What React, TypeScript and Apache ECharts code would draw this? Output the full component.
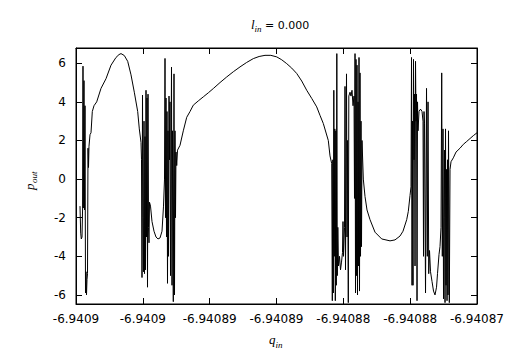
import React, { useEffect, useRef } from "react";
import * as echarts from "echarts";

// x positions in tick-index units (0 = first tick "-6.9409", 6 = last tick "-6.94087")
const qIn = [
  0.0599, 0.0703, 0.0793, 0.0898, 0.0988, 0.1047, 0.1092, 0.1197, 0.1272, 0.1347,
  0.1422, 0.1496, 0.1571, 0.1646, 0.1721, 0.1796, 0.187, 0.1945, 0.2095, 0.2245,
  0.2439, 0.2693, 0.3097, 0.3741, 0.4489, 0.5237, 0.5985, 0.6434, 0.6734, 0.7227,
  0.7736, 0.823, 0.8724, 0.9232, 0.9472, 0.9726, 0.9801, 0.9876, 0.9951, 1.0025,
  1.01, 1.0175, 1.025, 1.0325, 1.04, 1.0474, 1.0549, 1.0624, 1.0699, 1.0774,
  1.0848, 1.0923, 1.0998, 1.1148, 1.1372, 1.1672, 1.1971, 1.227, 1.2569, 1.2869,
  1.3093, 1.3243, 1.3317, 1.3392, 1.3467, 1.3542, 1.3617, 1.3691, 1.3766, 1.3841,
  1.3916, 1.3991, 1.4066, 1.414, 1.429, 1.4365, 1.444, 1.4559, 1.4664, 1.4739,
  1.4814, 1.4888, 1.4963, 1.5068, 1.5188, 1.5562, 1.6056, 1.6565, 1.7058, 1.7552,
  1.83, 1.9048, 1.98, 2.0545, 2.155, 2.255, 2.354, 2.454, 2.553, 2.653, 2.74, 2.8281,
  2.915, 3.0031, 3.078, 3.1528, 3.2276, 3.3024, 3.3772, 3.452, 3.5268,
  3.6017, 3.651, 3.7004, 3.7752, 3.8007, 3.8261, 3.8351, 3.8426, 3.8501, 3.8576, 3.865,
  3.8725, 3.88, 3.8875, 3.895, 3.9025, 3.9099, 3.9174, 3.9279, 3.9429, 3.9578,
  3.9728, 3.9877, 3.9952, 4.0027, 4.0177, 4.0251, 4.0326, 4.0476, 4.0551, 4.0626,
  4.0745, 4.082, 4.1, 4.1149, 4.1299, 4.1449, 4.1598, 4.1673, 4.1748, 4.1823,
  4.1897, 4.1972, 4.2047, 4.2122, 4.2197, 4.2271, 4.2346, 4.2421, 4.2496, 4.2571,
  4.2646, 4.272, 4.2795, 4.299, 4.3244, 4.3543, 4.3992, 4.474, 4.5743, 4.6985,
  4.7733, 4.8481, 4.893, 4.9484, 4.9723, 4.9978, 5.0127, 5.0202, 5.0277, 5.0352,
  5.0427, 5.0501, 5.0576, 5.0651, 5.0726, 5.0801, 5.0875, 5.095, 5.1025, 5.11,
  5.1175, 5.1324, 5.1474, 5.1624, 5.1773, 5.1923, 5.1998, 5.2072, 5.2147, 5.2297,
  5.2447, 5.2566, 5.2671, 5.2776, 5.2895, 5.3045, 5.3269, 5.3494, 5.3718, 5.3943,
  5.4092, 5.4317, 5.4466, 5.4616, 5.4721, 5.4811, 5.4915, 5.499, 5.5065, 5.514,
  5.5215, 5.529, 5.5364, 5.5439, 5.5514, 5.5589, 5.5664, 5.5738, 5.5858, 5.5963,
  5.6113, 5.6457, 5.6861, 5.7459, 5.7953, 5.8462, 5.8956, 5.9449, 6.0,
];

const pOut = [
  -1.4, -2.8, -3.1, -3.0, -1.5, 5.85, -1.5, 5.1, -1.6, 3.8,
  -5.9, -4.8, -6.0, -5.2, -4.9, 1.6, 0.6, 1.7, 2.3, 2.4,
  3.5, 3.8, 4.0, 4.7, 5.2, 5.9, 6.3, 6.45, 6.5, 6.4,
  6.1, 5.4, 4.5, 3.5, 2.6, 1.9, 1.0, -5.1, 4.35, -2.0,
  -4.8, 3.0, -4.9, 2.2, -4.7, 4.6, -3.0, 4.2, -5.6, 4.4,
  -2.5, -3.3, -1.2, -1.4, -2.2, -2.7, -3.0, -3.1, -3.05, -2.7,
  -1.4, 0, 6.25, -2, 4.2, -3, 3.5, -5.4, 2.5, -4,
  4.3, 1, 4.0, -5.0, 5.8, -5.5, 2.5, -6.35, 5.45, -6.0,
  2.5, -2, 1.4, 0.7, 1.5, 1.75, 2.5, 3.2, 3.5, 3.83,
  4.05, 4.26, 4.47, 4.69, 5.0, 5.29, 5.56, 5.81, 6.04, 6.24, 6.35, 6.41,
  6.41, 6.33, 6.18, 5.98, 5.75, 5.47, 5.08, 4.6, 4.18,
  3.74, 3.3, 2.88, 2.0, 1.2, 0.8, -6.3, 1.0, -5.9, 4.6, -4.0,
  2.6, -6.3, 2.5, -5.5, 6.5, -5.0, -2.5, -4.5, -4.0, -4.7,
  -4.3, -3.8, -2.2, -4.0, -2.5, 4.8, -4.7, 5.45, -3.0, 2.0,
  -6.4, 4.3, 4.5, 4.3, 4.6, 3.8, 4.3, -1, 6.5, -5.9,
  6.2, -5.0, 5.9, -6.0, 4.0, -4.5, 6.3, -5.8, 5.5, -4.0,
  3.0, -3.5, 2.0, 0, -0.9, -1.6, -2.1, -2.75, -3.1, -3.2,
  -3.15, -2.95, -2.7, -2.1, -1.67, -0.85, -0.4, 6.3, -5.5, 3.0,
  -5.5, 6.2, 1.0, 4.4, -4.5, 6.1, 3.0, 4.4, -6.3, 4.0,
  2.5, 3.5, 3.6, 3.6, 3.5, 3.0, -4.0, 3.5, 2.9, -5.9,
  4.7, -4.0, 4.0, -4.9, -3.7, -4.8, -5.3, -5.8, -6.0, -5.6,
  -4.9, -3.9, -3.5, -2.5, 5.5, -4.0, 2.6, -6.2, -2, 1.5,
  -6.4, 2.6, -5.5, 0.5, -6.3, 1.0, -6.0, 2.5, -6.4, 0.5,
  0.9, 1.1, 1.4, 1.6, 1.8, 1.95, 2.1, 2.25, 2.4,
];

const xTickLabels = [
  "-6.9409", "-6.9409", "-6.94089", "-6.94089", "-6.94088", "-6.94088", "-6.94087",
];
const yTicks = [-6, -4, -2, 0, 2, 4, 6];
const xRange = [0, 6];
const yRange = [-6.47, 6.79];

const LABEL_FONT = "DejaVu Sans";
const MATH_FONT = "Liberation Serif";

export default function App() {
  const ref = useRef<HTMLDivElement>(null);

  useEffect(() => {
    const chart = echarts.init(ref.current!, null, { renderer: "svg" });
    const data = qIn.map((q, i) => [q, pOut[i]]);
    const line = { show: true, onZero: false, lineStyle: { color: "#000", width: 1 } };
    const tick = { show: true, inside: true, length: 6, lineStyle: { color: "#000", width: 1 } };

    chart.setOption({
      animation: false,
      backgroundColor: "#fff",
      grid: {
        left: 76,
        right: 31,
        top: 48,
        bottom: 50,
        show: true,
        borderColor: "#000",
        borderWidth: 1,
        backgroundColor: "transparent",
      },
      xAxis: [
        {
          type: "value",
          position: "bottom",
          min: xRange[0],
          max: xRange[1],
          interval: 1,
          axisLine: line,
          axisTick: tick,
          splitLine: { show: false },
          axisLabel: {
            color: "#000",
            fontSize: 12,
            fontFamily: LABEL_FONT,
            margin: 9,
            formatter: (v: number) => xTickLabels[Math.round(v)] ?? "",
          },
        },
        {
          type: "value",
          position: "top",
          min: xRange[0],
          max: xRange[1],
          interval: 1,
          axisLine: line,
          axisTick: tick,
          splitLine: { show: false },
          axisLabel: { show: false },
        },
      ],
      yAxis: [
        {
          type: "value",
          position: "left",
          min: yRange[0],
          max: yRange[1],
          axisLine: line,
          axisTick: { ...tick, customValues: yTicks },
          splitLine: { show: false },
          axisLabel: {
            customValues: yTicks,
            color: "#000",
            fontSize: 12,
            fontFamily: LABEL_FONT,
            margin: 10,
            formatter: (v: number) => String(v),
          },
        },
        {
          type: "value",
          position: "right",
          min: yRange[0],
          max: yRange[1],
          axisLine: line,
          axisTick: { ...tick, customValues: yTicks },
          splitLine: { show: false },
          axisLabel: { show: false },
        },
      ],
      series: [
        {
          type: "line",
          data,
          xAxisIndex: 0,
          yAxisIndex: 0,
          symbol: "none",
          showSymbol: false,
          clip: true,
          lineStyle: { color: "#000", width: 1 },
        },
      ],
      graphic: [
        {
          type: "text",
          x: 251,
          y: 31,
          style: { text: "l", font: `italic 13px "${MATH_FONT}"`, fill: "#000", align: "left", verticalAlign: "bottom" },
        },
        {
          type: "text",
          x: 254.5,
          y: 33,
          style: { text: "in", font: `italic 9px "${MATH_FONT}"`, fill: "#000", align: "left", verticalAlign: "bottom" },
        },
        {
          type: "text",
          x: 265,
          y: 31,
          style: { text: "= 0.000", font: `11px "${LABEL_FONT}"`, fill: "#000", align: "left", verticalAlign: "bottom" },
        },
        {
          type: "text",
          x: 269,
          y: 346,
          style: { text: "q", font: `italic 13px "${MATH_FONT}"`, fill: "#000", align: "left", verticalAlign: "bottom" },
        },
        {
          type: "text",
          x: 275.5,
          y: 349,
          style: { text: "in", font: `italic 9px "${MATH_FONT}"`, fill: "#000", align: "left", verticalAlign: "bottom" },
        },
        {
          type: "group",
          x: 36,
          y: 190,
          rotation: Math.PI / 2,
          children: [
            {
              type: "text",
              x: 0,
              y: 0,
              style: { text: "p", font: `italic 13px "${MATH_FONT}"`, fill: "#000", align: "left", verticalAlign: "bottom" },
            },
            {
              type: "text",
              x: 7,
              y: 2,
              style: { text: "out", font: `italic 9px "${MATH_FONT}"`, fill: "#000", align: "left", verticalAlign: "bottom" },
            },
          ],
        },
      ],
    });

    return () => chart.dispose();
  }, []);

  return (
    <div
      ref={ref}
      style={{ position: "fixed", left: 0, top: 0, width: 508, height: 354, background: "#fff" }}
    />
  );
}
